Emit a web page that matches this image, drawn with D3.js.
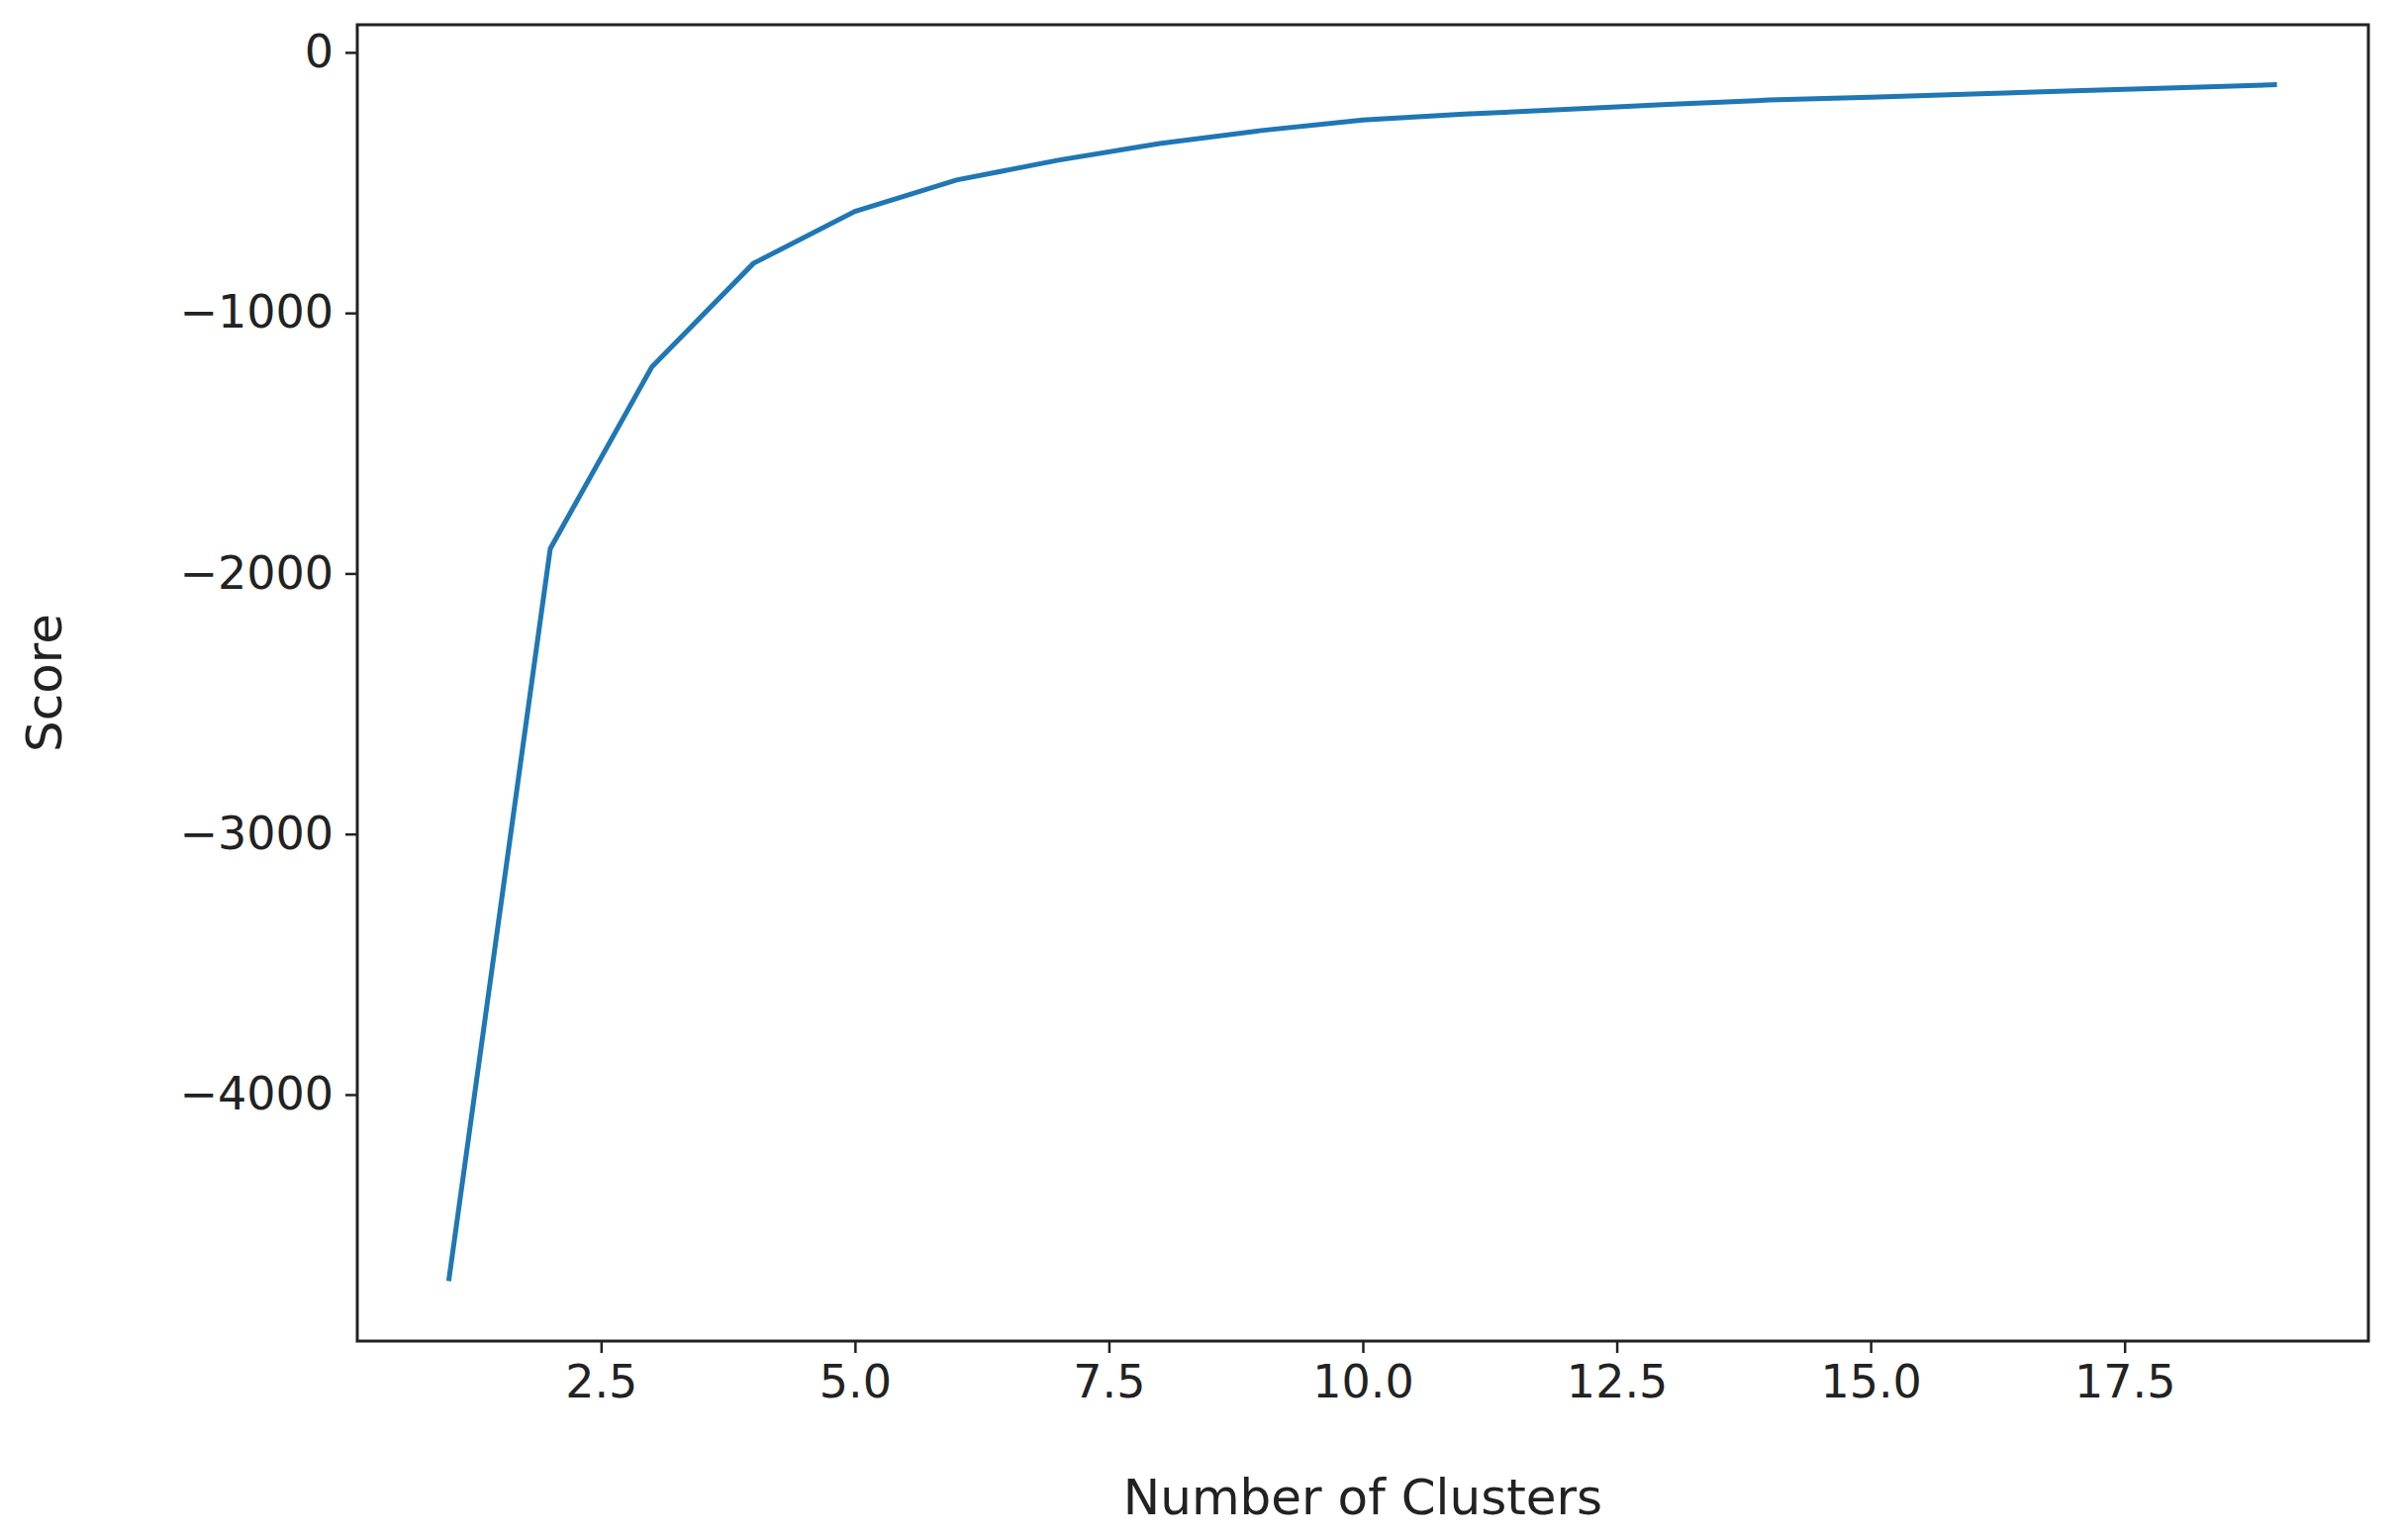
<!DOCTYPE html>
<html>
<head>
<meta charset="utf-8">
<script src="https://cdn.jsdelivr.net/npm/d3@7"></script>
<style>
  body { margin: 0; background: #fff; }
  text { font-family: "DejaVu Sans", sans-serif; fill: #222; }
</style>
</head>
<body>
<svg id="chart" width="2429" height="1556"></svg>
<script>
// Elbow curve values
const clusters = [1, 2, 3, 4, 5, 6, 7, 8, 9, 10, 11, 12, 13, 14, 15, 16, 17, 18, 19];
const scores = [-4716, -1905, -1207, -810, -610, -490, -414, -350, -300, -260,
                -237, -219, -200, -183, -172, -160, -148, -136, -124];
const xTicks = [2.5, 5.0, 7.5, 10.0, 12.5, 15.0, 17.5];
const yTicks = [0, -1000, -2000, -3000, -4000];

const svg = d3.select("#chart");
const m = { left: 361, right: 2393, top: 25, bottom: 1355 };

const x = d3.scaleLinear().domain([0.1, 19.9]).range([m.left, m.right]);
const y = d3.scaleLinear().domain([-4946, 106]).range([m.bottom, m.top]);

const fmt = d => d < 0 ? "\u2212" + Math.abs(d) : String(d);

const xAxis = svg.append("g")
    .attr("transform", `translate(0,${m.bottom})`)
    .call(d3.axisBottom(x).tickValues(xTicks).tickFormat(d3.format(".1f")).tickSize(12).tickPadding(12));
const yAxis = svg.append("g")
    .attr("transform", `translate(${m.left},0)`)
    .call(d3.axisLeft(y).tickValues(yTicks).tickFormat(fmt).tickSize(12).tickPadding(12));

[xAxis, yAxis].forEach(g => {
    g.select(".domain").remove();
    g.selectAll("line").attr("stroke", "#222").attr("stroke-width", 2.5);
    g.selectAll("text").style("font-size", "46px").style("font-family", "DejaVu Sans").attr("fill", "#222");
});

svg.append("rect")
    .attr("x", m.left).attr("y", m.top)
    .attr("width", m.right - m.left).attr("height", m.bottom - m.top)
    .attr("fill", "none").attr("stroke", "#222").attr("stroke-width", 3);

const line = d3.line().x((d, i) => x(clusters[i])).y(d => y(d));
svg.append("path")
    .datum(scores)
    .attr("d", line)
    .attr("fill", "none")
    .attr("stroke", "#1f77b4")
    .attr("stroke-width", 5);

svg.append("text")
    .attr("x", (m.left + m.right) / 2).attr("y", 1530)
    .attr("text-anchor", "middle").style("font-size", "50px")
    .text("Number of Clusters");

svg.append("text")
    .attr("transform", `translate(62,${(m.top + m.bottom) / 2}) rotate(-90)`)
    .attr("text-anchor", "middle").style("font-size", "50px")
    .text("Score");
</script>
</body>
</html>
